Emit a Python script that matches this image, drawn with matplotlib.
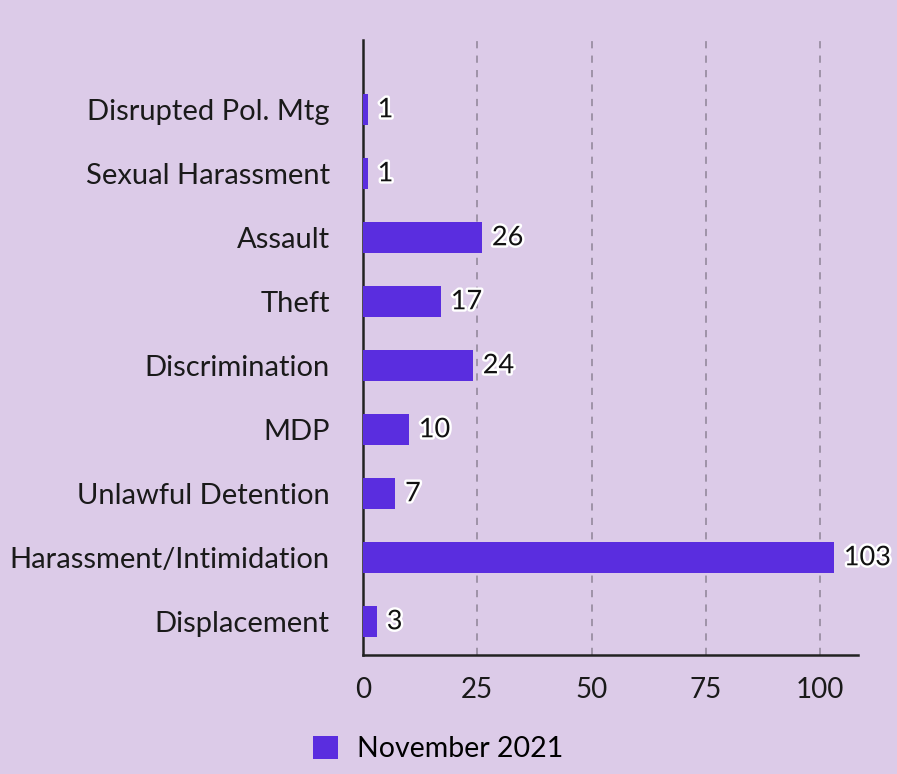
from matplotlib import pyplot as plt
import matplotlib.patheffects as pe
import numpy as np

categories = ['Disrupted Pol. Mtg', 'Sexual Harassment', 'Assault', 'Theft',
              'Discrimination', 'MDP', 'Unlawful Detention',
              'Harassment/Intimidation', 'Displacement']
counts = [1, 1, 26, 17, 24, 10, 7, 103, 3]
series_name = 'November 2021'
xticks = [0, 25, 50, 75, 100]

bg = '#dccbe8'
bar_color = '#5a2ddf'

plt.rcParams['font.family'] = ['Lato', 'DejaVu Sans']

fig = plt.figure(figsize=(8.97, 7.74), dpi=100, facecolor=bg)
ax = fig.add_axes([0.4047, 0.1537, 0.5518, 0.7946])
ax.set_facecolor(bg)

y = np.arange(len(categories))
bars = ax.barh(y, counts, height=0.48, color=bar_color, label=series_name, zorder=3)

for yi, v in zip(y, counts):
    ax.text(v + 2.2, yi, str(v), va='center', ha='left', fontsize=19.5, color='#111111',
            zorder=4, path_effects=[pe.withStroke(linewidth=3.5, foreground='white')])

ax.set_yticks(y)
ax.set_yticklabels(categories, fontsize=21, color='#1a1a1a')
ax.set_xticks(xticks)
ax.set_xticklabels([str(t) for t in xticks], fontsize=20, color='#1a1a1a')
ax.tick_params(length=0)
ax.tick_params(axis='x', pad=16)
ax.tick_params(axis='y', pad=24)

ax.set_xlim(0, 108.3)
ax.set_ylim(8.52, -1.09)

for t in xticks[1:]:
    ax.axvline(t, color='#9a8fa3', linestyle=(0, (4, 4)), linewidth=1.3, zorder=1)

ax.spines['top'].set_visible(False)
ax.spines['right'].set_visible(False)
for s in ('left', 'bottom'):
    ax.spines[s].set_color('#222222')
    ax.spines[s].set_linewidth(1.8)

fig.legend(handles=[bars], labels=[series_name], loc='lower center',
           bbox_to_anchor=(0.488, -0.018), frameon=False, fontsize=20.5,
           handlelength=0.9, handleheight=0.9, handletextpad=0.65)

fig.savefig('out.png', dpi=100, facecolor=bg)
